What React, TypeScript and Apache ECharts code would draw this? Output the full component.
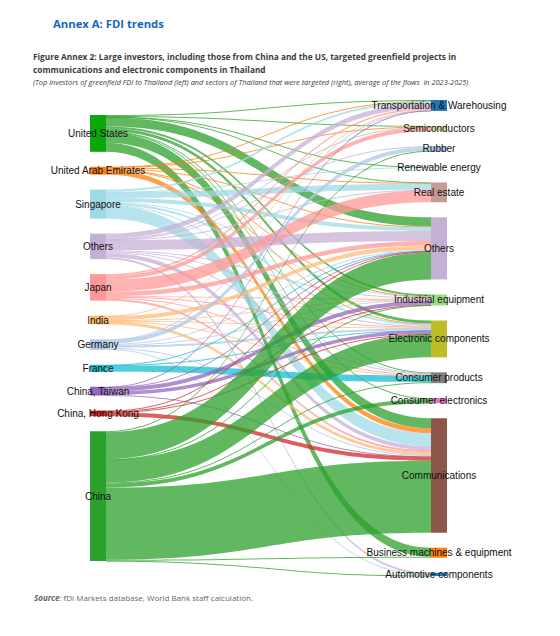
import { useEffect, useRef } from 'react'
import * as echarts from 'echarts'

// investors (left) and sectors (right), top to bottom
const investors = ['United States', 'United Arab Emirates', 'Singapore', 'Others', 'Japan', 'India', 'Germany', 'France', 'China, Taiwan', 'China, Hong Kong', 'China']
const sectors = ['Transportation & Warehousing', 'Semiconductors', 'Rubber', 'Renewable energy', 'Real estate', 'Others', 'Industrial equipment', 'Electronic components', 'Consumer products', 'Consumer electronics', 'Communications', 'Business machines & equipment', 'Automotive components']

// flows per investor, in the order of `sectors`
const usFlows = [1, 0.5, 0, 0.3, 0.5, 9, 2, 3, 0.5, 1, 10, 9, 0]
const uaeFlows = [0.3, 0.3, 0, 0, 0.8, 0.8, 0.3, 0.3, 0, 0, 5, 0, 0]
const singaporeFlows = [2, 0, 0, 0.5, 6, 4, 1, 2, 0.5, 0, 13, 0, 0]
const othersFlows = [5, 0.5, 0.5, 0, 0.5, 10, 1, 1, 1, 0, 4, 0, 2]
const japanFlows = [1.5, 4, 0, 0, 12, 4.5, 0.5, 1, 1, 0, 2, 0, 0]
const indiaFlows = [0.5, 0, 0, 0, 0, 4, 0.5, 0.5, 0.3, 0, 3, 0, 0]
const germanyFlows = [0.3, 0, 4, 0, 0, 1, 1, 2, 0, 0, 1, 0, 1]
const franceFlows = [0, 0, 0, 0, 0, 0.3, 0, 0.2, 6.5, 0, 0, 0, 0]
const taiwanFlows = [0.3, 0, 0, 0, 0, 0.5, 4, 3.5, 0, 0, 0.5, 0, 0]
const hongKongFlows = [0, 0, 0, 0, 0, 1, 0.3, 0.3, 0, 0, 4, 0, 0]
const chinaFlows = [0, 0, 1, 0, 0, 27, 0.5, 23, 1, 4, 72, 1, 0.3]

const flows = [usFlows, uaeFlows, singaporeFlows, othersFlows, japanFlows, indiaFlows, germanyFlows, franceFlows, taiwanFlows, hongKongFlows, chinaFlows]

const investorColors = ['#0aa80a', '#ff7f0e', '#9edae5', '#c5b0d5', '#ff9896', '#ffbb78', '#aec7e8', '#17becf', '#9467bd', '#d62728', '#2ca02c']
const linkColors = ['#2ca02c', '#ff7f0e', '#9edae5', '#c5b0d5', '#ff9896', '#ffbb78', '#aec7e8', '#17becf', '#9467bd', '#d62728', '#2ca02c']
const sectorColors = ['#1f77b4', '#dbdb8d', '#aec7e8', '#98df8a', '#c49c94', '#c5b0d5', '#98df8a', '#bcbd22', '#7f7f7f', '#e377c2', '#8c564b', '#ff7f0e', '#1f77b4']

const App = () => {
  const chartRef = useRef(null)

  useEffect(() => {
    const chart = echarts.init(chartRef.current, null, { renderer: 'svg' })

    // left names get a suffix so the two "Others" stay apart
    const srcName = (n: string) => n + ' '
    const nodes: any[] = [
      // empty spacer: pushes the left column down one gap
      { name: '  pad', value: 0, depth: 0, itemStyle: { opacity: 0 }, label: { show: false } },
      ...investors.map((n, i) => ({ name: srcName(n), depth: 0, itemStyle: { color: investorColors[i] } })),
      ...sectors.map((n, i) => ({ name: n, depth: 1, itemStyle: { color: sectorColors[i] } }))
    ]
    const links: any[] = []
    flows.forEach((row, i) => {
      row.forEach((v, j) => {
        if (v > 0) {
          links.push({
            source: srcName(investors[i]),
            target: sectors[j],
            value: v,
            lineStyle: { color: linkColors[i] }
          })
        }
      })
    })

    const titleFont = '"Open Sans", "Noto Sans", sans-serif'

    chart.setOption({
      animation: false,
      graphic: [
        { type: 'text', left: 53, top: 18, style: { text: 'Annex A: FDI trends', font: `bold 11.3px ${titleFont}`, fill: '#1565c0' } },
        { type: 'text', left: 33, top: 52, style: { text: 'Figure Annex 2: Large investors, including those from China and the US, targeted greenfield projects in', font: `bold 8.3px ${titleFont}`, fill: '#3c3c3c' } },
        { type: 'text', left: 33, top: 65, style: { text: 'communications and electronic components in Thailand', font: `bold 8.3px ${titleFont}`, fill: '#3c3c3c' } },
        { type: 'text', left: 33, top: 78, style: { text: '(Top investors of greenfield FDI to Thailand (left) and sectors of Thailand that were targeted (right), average of the flows  in 2023-2025)', font: `italic 7.4px ${titleFont}`, fill: '#3c3c3c' } },
        {
          type: 'text', left: 34, top: 593,
          style: {
            text: '{b|Source}: fDi Markets database, World Bank staff calculation.',
            font: `8px ${titleFont}`,
            fill: '#666',
            rich: { b: { fontWeight: 'bold', fontStyle: 'italic', fontSize: 8, fontFamily: titleFont, fill: '#666' } }
          }
        }
      ],
      series: [
        {
          type: 'sankey',
          left: 90,
          right: 113,
          top: 100,
          bottom: 60,
          nodeWidth: 16,
          nodeGap: 15,
          layoutIterations: 0,
          nodeAlign: 'justify',
          draggable: false,
          emphasis: { disabled: true },
          itemStyle: { borderWidth: 0 },
          lineStyle: { opacity: 0.75, curveness: 0.5 },
          label: {
            position: 'inside',
            color: '#111',
            fontSize: 10,
            fontFamily: '"Liberation Sans", Arial, sans-serif',
            formatter: (p: any) => p.name.trim()
          },
          data: nodes,
          links
        }
      ]
    })

    return () => {
      chart.dispose()
    }
  }, [])

  return <div ref={chartRef} style={{ position: 'absolute', left: 0, top: 0, width: 560, height: 636 }} />
}

export default App
